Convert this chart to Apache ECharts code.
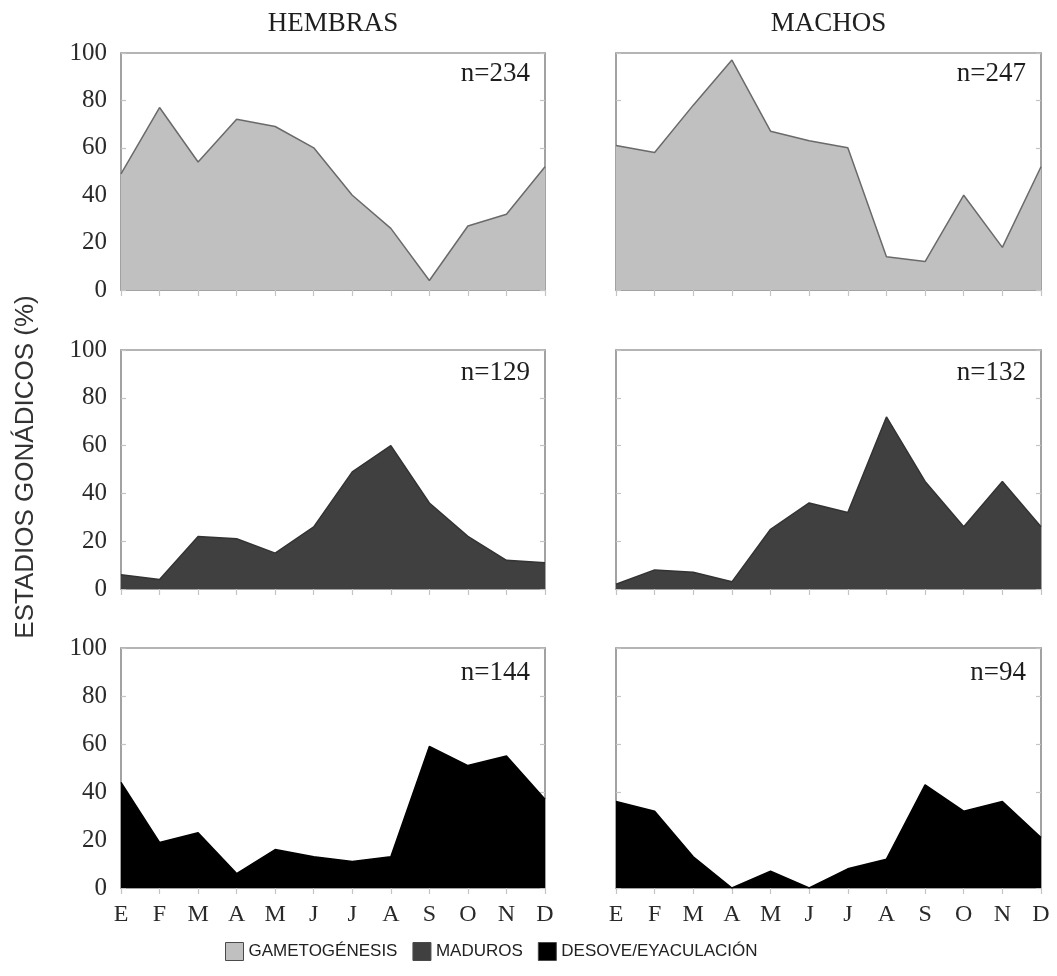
<!DOCTYPE html>
<html>
<head>
<meta charset="utf-8">
<title>Estadios gonádicos</title>
<script src="https://cdn.jsdelivr.net/npm/echarts@6/dist/echarts.min.js"></script>
<style>
  html, body { margin: 0; padding: 0; background: #fff; }
  #chart { width: 1057px; height: 976px; }
</style>
</head>
<body>
<div id="chart"></div>
<script>
// Month initials (Enero ... Diciembre)
const months = ['E', 'F', 'M', 'A', 'M', 'J', 'J', 'A', 'S', 'O', 'N', 'D'];
const yTicks = [0, 20, 40, 60, 80, 100];

const stageNames = ['GAMETOGÉNESIS', 'MADUROS', 'DESOVE/EYACULACIÓN'];
const sexNames = ['HEMBRAS', 'MACHOS'];

// Monthly percentage of each gonadal stage, females
const hembrasGametogenesis = [49, 77, 54, 72, 69, 60, 40, 26, 4, 27, 32, 52];
const hembrasMaduros       = [6, 4, 22, 21, 15, 26, 49, 60, 36, 22, 12, 11];
const hembrasDesove        = [44, 19, 23, 6, 16, 13, 11, 13, 59, 51, 55, 37];

// Monthly percentage of each gonadal stage, males
const machosGametogenesis = [61, 58, 78, 97, 67, 63, 60, 14, 12, 40, 18, 52];
const machosMaduros       = [2, 8, 7, 3, 25, 36, 32, 72, 45, 26, 45, 26];
const machosEyaculacion   = [36, 32, 13, 0, 7, 0, 8, 12, 43, 32, 36, 21];

// Sample size per panel (row-major: stage rows, sex columns)
const sampleSizes = [234, 247, 129, 132, 144, 94];

const panelData = [
  [hembrasGametogenesis, machosGametogenesis],
  [hembrasMaduros, machosMaduros],
  [hembrasDesove, machosEyaculacion]
];

const fills = ['#c0c0c0', '#404040', '#000000'];
const strokes = ['#6a6a6a', '#333333', '#000000'];

const colLeft = [121, 616];
const colWidth = [424, 425];
const rowTop = [53, 350, 648];
const rowHeight = [237, 239, 240];

const serif = '"Liberation Serif", "DejaVu Serif", serif';
const sans = '"Liberation Sans", Arial, sans-serif';
const narrow = '"Liberation Sans Narrow", "Liberation Sans", Arial, sans-serif';

const grids = [], xAxes = [], yAxes = [], series = [], graphics = [];

for (let r = 0; r < 3; r++) {
  for (let c = 0; c < 2; c++) {
    const g = grids.length;
    grids.push({
      left: colLeft[c], top: rowTop[r], width: colWidth[c], height: rowHeight[r],
      show: true, borderColor: '#9c9c9c', borderWidth: 1.5, backgroundColor: 'transparent'
    });
    xAxes.push({
      type: 'category', gridIndex: g, data: months, boundaryGap: false,
      axisLine: { show: true, lineStyle: { color: '#9c9c9c', width: 1.5 } },
      axisTick: { show: true, length: 6, inside: false, lineStyle: { color: '#c4c4c4', width: 1.2 } },
      axisLabel: {
        show: r === 2, interval: 0, margin: 15,
        fontFamily: serif, fontSize: 24, color: '#2a2a2a'
      },
      splitLine: { show: false }
    });
    // left value axis
    yAxes.push({
      type: 'value', gridIndex: g, min: 0, max: 100, interval: 20, position: 'left',
      axisLine: { show: true, lineStyle: { color: '#9c9c9c', width: 1.5 } },
      axisTick: { show: true, inside: true, length: 5, lineStyle: { color: '#c4c4c4', width: 1.2 } },
      axisLabel: {
        show: c === 0, margin: 14, fontFamily: serif, fontSize: 25, color: '#2a2a2a',
        formatter: v => (yTicks.indexOf(v) >= 0 ? String(v) : '')
      },
      splitLine: { show: false }
    });
    // right value axis, ticks only
    yAxes.push({
      type: 'value', gridIndex: g, min: 0, max: 100, interval: 20, position: 'right',
      axisLine: { show: true, lineStyle: { color: '#9c9c9c', width: 1.5 } },
      axisTick: { show: true, inside: true, length: 5, lineStyle: { color: '#c4c4c4', width: 1.2 } },
      axisLabel: { show: false },
      splitLine: { show: false }
    });
    series.push({
      name: stageNames[r], type: 'line',
      xAxisIndex: g, yAxisIndex: g * 2,
      data: panelData[r][c],
      symbol: 'none', smooth: false,
      lineStyle: { color: strokes[r], width: 1.5 },
      itemStyle: { color: fills[r], borderColor: '#4a4a4a', borderWidth: 1 },
      areaStyle: { color: fills[r], opacity: 1 },
      emphasis: { disabled: true }, silent: true, animation: false
    });
    graphics.push({
      type: 'text',
      right: 1057 - (colLeft[c] + colWidth[c]) + 15,
      top: rowTop[r] + 7 + r * 2,
      style: { text: 'n=' + sampleSizes[g], font: '27px ' + serif, fill: '#1e1e1e' }
    });
  }
}

// column headings
sexNames.forEach((name, c) => {
  graphics.push({
    type: 'text',
    x: colLeft[c] + colWidth[c] / 2, y: 24,
    style: { text: name, font: '27px ' + serif, fill: '#1e1e1e', align: 'center', verticalAlign: 'middle' }
  });
});

// shared vertical axis title
graphics.push({
  type: 'text',
  x: 26, y: 467, rotation: Math.PI / 2,
  style: {
    text: 'ESTADIOS GONÁDICOS (%)', font: '26px ' + sans, fill: '#333',
    align: 'center', verticalAlign: 'middle'
  }
});

const chart = echarts.init(document.getElementById('chart'), null, { renderer: 'canvas' });
chart.setOption({
  animation: false,
  backgroundColor: '#ffffff',
  grid: grids,
  xAxis: xAxes,
  yAxis: yAxes,
  series: series,
  legend: {
    data: stageNames,
    left: 220, top: 937,
    icon: 'rect', itemWidth: 18, itemHeight: 18, itemGap: 15,
    itemStyle: { borderColor: '#4a4a4a', borderWidth: 1 },
    textStyle: { fontFamily: narrow, fontSize: 17, color: '#222' },
    selectedMode: false
  },
  graphic: graphics
});
</script>
</body>
</html>
